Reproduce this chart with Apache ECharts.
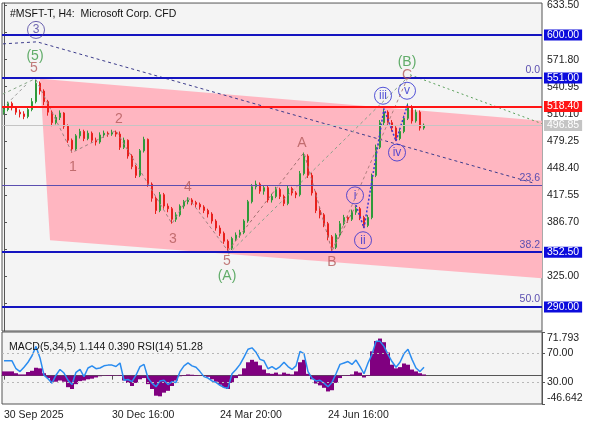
<!DOCTYPE html>
<html>
<head>
<meta charset="utf-8">
<title>MSFT H4</title>
<script src="https://cdn.jsdelivr.net/npm/echarts@6/dist/echarts.min.js"></script>
<style>
html, body { margin: 0; padding: 0; background: #fff; }
#main { width: 596px; height: 425px; }
</style>
</head>
<body>
<div id="main"></div>
<script>
// H4 candles
const open  = [512,515,522,517,512,510,507,515,524,545, 536,524,512,500,506,511,496,480,470,485, 490,482,488,480,478,486,488,487,489,487, 472,480,462,450,440,468,481,430,414,400, 418,405,402,390,395,405,410,412,409,407, 404,400,396,388,380,374,365,357,368,372, 375,388,410,427,430,422,426,412,416,424, 416,408,425,420,418,442,462,440,420,400, 395,385,370,358,372,385,392,390,398,402, 392,383,392,440,472,500,512,500,494,482, 490,505,518,502,512,494];
const close = [515,522,517,512,510,507,515,524,545,536, 524,512,500,506,511,496,480,470,485,490, 482,488,480,478,486,488,487,489,487,472, 480,462,450,440,468,481,430,414,400,418, 405,402,390,395,405,410,412,409,407,404, 400,396,388,380,374,365,357,368,372,375, 388,410,427,430,422,426,412,416,424,416, 408,425,420,418,442,462,440,420,400,395, 385,370,358,372,385,392,390,398,402,392, 383,392,440,472,500,512,500,494,482,490, 505,518,502,512,494,497];
const low   = [509,513,514,509,506,504,505,513,522,532, 520,508,496,498,503,493,477,466,468,482, 479,480,477,474,476,483,484,485,484,469, 470,459,447,437,438,466,427,410,396,398, 402,398,385,387,393,402,407,406,404,401, 397,392,385,377,371,362,354,355,365,369, 373,386,408,424,419,418,409,409,414,413, 405,406,417,414,416,440,437,417,397,391, 381,366,354,356,370,383,386,388,395,389, 380,381,390,438,470,497,497,490,479,480, 488,503,499,500,491,492];
const high  = [518,524,524,519,515,513,517,528,549,547, 538,526,514,509,514,512,498,482,487,493, 492,491,490,483,489,491,490,492,491,490, 483,481,464,452,470,484,482,432,416,421, 420,408,404,398,407,412,415,414,411,409, 406,402,398,390,383,376,367,370,375,378, 390,412,430,434,432,429,428,419,427,426, 418,428,427,422,445,466,464,443,422,404, 397,387,372,374,388,395,394,401,406,404, 394,395,442,475,503,516,514,503,496,493, 508,522,520,515,514,499];

const macdHist = [7,7,7,4,2,2,6,8,13,12, 4,-4,-12,-10,-8,-10,-19,-22,-14,-9, -8,-6,-5,-3,-1,0.5,1,1,0.5,1, -8,-12,-17,-12,-6,-4,-14,-22,-33,-34, -28,-25,-17,-8,-1,1,2,1.5,1,0.5, -0.5,-2,-6,-10,-15,-19,-22,-12,-4,2, 12,22,26,23,17,10,4,3,5,2, 5,3,2,7,22,26,3,-6,-13,-16, -20,-26,-24,-12,-4,0.5,1,2,7,5, -3,1,40,57,61,55,38,18,12,14, 20,18,10,7,4,2];
const rsi = [60,60,60,49,45,51,58,67,80,64, 40,35,29,40,48,43,33,27,44,48, 38,50,53,49,50,53,54,54,52,57, 33,34,31,40,52,55,36,29,24,32, 33,27,31,30,45,53,57,53,51,45, 38,36,32,30,26,23,22,42,48,55, 65,76,78,72,62,60,49,52,48,52, 58,52,48,53,73,70,45,36,32,33, 29,24,30,42,55,57,59,55,61,52, 42,57,69,87,87,80,69,59,51,58, 70,76,62,50,45,51];

// time axis: bar slots incl. empty space on the right
const slotCount = 135;
const dateTickIdx = [0, 27, 54, 81];
const dateTickText = ['30 Sep 2025', '30 Dec 16:00', '24 Mar 20:00', '24 Jun 16:00'];

// price scale ticks
const priceTicks  = [294.15, 325.00, 355.85, 386.70, 417.55, 448.40, 479.25, 510.10, 540.95, 571.80, 602.65, 633.50];
const priceLabels = [325.00, 386.70, 417.55, 448.40, 479.25, 510.10, 540.95, 571.80, 633.50];

// horizontal levels
const blueLevels = [600.00, 551.00, 352.50, 290.00];
const redLevel = 518.40;
const lastPrice = 496.85;
const fibNames  = ['0.0', '23.6', '38.2', '50.0'];
const fibPrices = [551.0, 428.5, 352.5, 290.0];

// channel (pink) corners: bar slot, price
const chanX = [9.0, 134.5, 134.5, 11.5];
const chanY = [550.0, 502.3, 322.9, 366.1];

// wave paths: bar slot, price
const impulseX = [8, 17, 28, 42, 46, 56];
const impulseY = [549, 466, 491, 385, 415, 354];
const abcX = [56, 75, 82, 88];
const abcY = [354, 466, 354, 406];
const subX = [88, 90, 95, 98, 101];
const subY = [406, 380, 516, 479, 522];
const bigAbX = [56, 101];
const bigAbY = [350, 552];
const bcX = [82, 101];
const bcY = [354, 552];
const trendX = [-0.25, 8.25, 132.75];
const trendY = [589.8, 592.1, 430.8];
const bTrendX = [101.5, 134.5];
const bTrendY = [554.6, 498.9];
const leftAX = [-0.3, 7.75];
const leftAY = [532.6, 550.0];
const leftBX = [0.7, 5.7];
const leftBY = [521.3, 544.0];

// wave labels
const brownText = ['5', '1', '2', '3', '4', '5', 'A', 'B', 'C'];
const brownX = [7.5, 17.25, 28.75, 42.25, 46, 55.75, 74.5, 82, 100.75];
const brownY = [562.5, 449, 504.6, 367.2, 426.3, 342.2, 476.2, 341.1, 554.6];
const greenText = ['(5)', '(A)', '(B)'];
const greenX = [7.75, 55.75, 100.75];
const greenY = [576.2, 325.2, 569.3];
const circText = ['i', 'ii', 'iii', 'iv', 'v'];
const circX = [87.75, 89.75, 94.75, 98.25, 100.75];
const circY = [417.2, 366.1, 530.7, 466, 536.4];
const bigCircText = ['3'];
const bigCircX = [8];
const bigCircY = [605.7];

const FONT = 'Liberation Sans';
const slots = Array.from({ length: slotCount }, (_, i) => String(i));
const pairs = (xs, ys) => xs.map((x, k) => [x, ys[k]]);

const myChart = echarts.init(document.getElementById('main'));

const dashed = (name, xs, ys, color, type, width) => ({
  name: name,
  type: 'line',
  xAxisIndex: 1,
  yAxisIndex: 0,
  data: pairs(xs, ys),
  symbol: 'none',
  silent: true,
  z: 4,
  lineStyle: { color: color, width: width || 1, type: type }
});

const textMarks = (texts, xs, ys, color, size) => ({
  type: 'scatter',
  xAxisIndex: 1,
  yAxisIndex: 0,
  symbolSize: 1,
  silent: true,
  z: 6,
  itemStyle: { color: 'rgba(0,0,0,0)' },
  data: texts.map((t, k) => ({ value: [xs[k], ys[k]], name: t })),
  label: {
    show: true, position: 'inside', formatter: p => p.name,
    color: color, fontFamily: FONT, fontSize: size
  }
});

const circleMarks = (texts, xs, ys, color, size) => ({
  type: 'scatter',
  xAxisIndex: 1,
  yAxisIndex: 0,
  symbol: 'circle',
  symbolSize: size,
  silent: true,
  z: 6,
  itemStyle: { color: 'rgba(255,255,255,0)', borderColor: color, borderWidth: 1 },
  data: texts.map((t, k) => ({ value: [xs[k], ys[k]], name: t })),
  label: {
    show: true, position: 'inside', formatter: p => p.name,
    color: color, fontFamily: FONT, fontSize: 12
  }
});

const boxLabel = (bg) => ({
  show: true, position: 'end', distance: 2,
  formatter: p => p.value.toFixed(2),
  color: '#fff', backgroundColor: bg,
  fontFamily: FONT, fontSize: 10.5, lineHeight: 11, padding: [0, 3, 0, 3]
});

const markData = [];
fibPrices.forEach((p, k) => markData.push({
  yAxis: p,
  lineStyle: { color: '#5b4fb0', width: 1, type: 'solid' },
  label: {
    show: true, position: 'insideEndTop', distance: 2, formatter: fibNames[k],
    color: '#5b4fb0', fontFamily: FONT, fontSize: 10.5
  }
}));
markData.push({ yAxis: lastPrice, lineStyle: { color: '#c4c4c4', width: 1, type: 'solid' }, label: boxLabel('#c4c4c4') });
markData.push({ yAxis: redLevel, lineStyle: { color: '#ff1414', width: 2, type: 'solid' }, label: boxLabel('#ff1414') });
blueLevels.forEach(p => markData.push({
  yAxis: p, lineStyle: { color: '#1414c0', width: 2, type: 'solid' }, label: boxLabel('#0c0cdc')
}));

const option = {
  animation: false,
  backgroundColor: '#fff',
  textStyle: { fontFamily: FONT },
  title: [
    { text: '#MSFT-T, H4:  Microsoft Corp. CFD', left: 5, top: 4,
      textStyle: { fontFamily: FONT, fontSize: 10.5, fontWeight: 'normal', color: '#111' } },
    { text: 'MACD(5,34,5) 1.144 0.390 RSI(14) 51.28', left: 4, top: 337,
      textStyle: { fontFamily: FONT, fontSize: 10.5, fontWeight: 'normal', color: '#111' } }
  ],
  grid: [
    { left: 2, right: 54, top: 2, bottom: 94, show: true, backgroundColor: '#f4f4f4', borderColor: '#555', borderWidth: 1 },
    { left: 2, right: 54, top: 332, bottom: 21, show: true, backgroundColor: '#f4f4f4', borderColor: '#555', borderWidth: 1 }
  ],
  xAxis: [
    { type: 'category', gridIndex: 0, data: slots, boundaryGap: true,
      axisLine: { show: false }, axisTick: { show: false }, axisLabel: { show: false }, splitLine: { show: false } },
    { type: 'value', gridIndex: 0, min: -0.5, max: slotCount - 0.5, show: false },
    { type: 'category', gridIndex: 1, data: slots, boundaryGap: true,
      axisLine: { show: true, lineStyle: { color: '#555' } },
      axisTick: { show: true, alignWithLabel: true, length: 4, lineStyle: { color: '#555' },
        interval: idx => dateTickIdx.includes(idx) },
      axisLabel: { show: true, align: 'left', margin: 6, color: '#222', fontFamily: FONT, fontSize: 10.5,
        interval: idx => dateTickIdx.includes(idx),
        formatter: (v, idx) => dateTickText[dateTickIdx.indexOf(idx)] || '' },
      splitLine: { show: false } }
  ],
  yAxis: [
    { type: 'value', gridIndex: 0, position: 'right', min: 262.7, max: 636.3,
      axisLine: { show: true, lineStyle: { color: '#555' } },
      axisTick: { show: true, length: 3, lineStyle: { color: '#555' }, customValues: priceTicks },
      axisLabel: { show: true, margin: 5, color: '#222', fontFamily: FONT, fontSize: 10.5,
        customValues: priceLabels, formatter: v => v.toFixed(2) },
      splitLine: { show: false } },
    { type: 'value', gridIndex: 1, position: 'right', min: -46.642, max: 71.793,
      axisLine: { show: true, lineStyle: { color: '#555' } },
      axisTick: { show: true, length: 3, lineStyle: { color: '#555' }, customValues: [-46.642, 71.793] },
      axisLabel: { show: true, margin: 5, color: '#222', fontFamily: FONT, fontSize: 10.5,
        customValues: [-46.642, 71.793],
        formatter: v => v > 0 ? '{t|' + v.toFixed(3) + '}' : '{b|' + v.toFixed(3) + '}',
        rich: {
          t: { padding: [12, 0, 0, 0], color: '#222', fontFamily: FONT, fontSize: 10.5 },
          b: { padding: [0, 0, 12, 0], color: '#222', fontFamily: FONT, fontSize: 10.5 }
        } },
      splitLine: { show: false } },
    { type: 'value', gridIndex: 1, position: 'right', min: 0, max: 100,
      axisLine: { show: false },
      axisTick: { show: true, length: 3, lineStyle: { color: '#555' }, customValues: [30, 70] },
      axisLabel: { show: true, margin: 5, color: '#222', fontFamily: FONT, fontSize: 10.5,
        customValues: [30, 70], formatter: v => v.toFixed(2) },
      splitLine: { show: false } }
  ],
  series: [
    {
      name: 'channel',
      type: 'custom',
      xAxisIndex: 1,
      yAxisIndex: 0,
      silent: true,
      z: 1,
      data: [[chanX[0], chanY[0]]],
      renderItem: (params, api) => ({
        type: 'polygon',
        shape: { points: chanX.map((x, k) => api.coord([x, chanY[k]])) },
        style: { fill: '#ffb6c1' }
      })
    },
    {
      name: 'MSFT',
      type: 'candlestick',
      xAxisIndex: 0,
      yAxisIndex: 0,
      z: 3,
      barWidth: 2,
      data: open.map((o, i) => [o, close[i], low[i], high[i]]),
      itemStyle: { color: '#2f9a3a', color0: '#e8201c', borderColor: '#2f9a3a', borderColor0: '#e8201c', borderWidth: 1 },
      markLine: { symbol: ['none', 'none'], silent: true, animation: false, data: markData }
    },
    dashed('trend', trendX, trendY, '#3c3c8c', [3, 3]),
    dashed('leftA', leftAX, leftAY, '#88a888', [3, 3]),
    dashed('leftB', leftBX, leftBY, '#999999', [3, 3]),
    dashed('impulse', impulseX, impulseY, '#9c8080', [3, 3]),
    dashed('abc', abcX, abcY, '#a07070', [3, 3]),
    dashed('bigAB', bigAbX, bigAbY, '#8aa08a', [3, 3]),
    dashed('bc', bcX, bcY, '#b08080', [3, 3]),
    dashed('sub', subX, subY, '#3a3ad8', [2, 2], 1.5),
    dashed('bTrend', bTrendX, bTrendY, '#5aa05a', [2, 3]),
    textMarks(brownText, brownX, brownY, '#b35a5a', 14),
    textMarks(greenText, greenX, greenY, '#3c9a46', 14),
    circleMarks(circText, circX, circY, '#2c2cd0', 17),
    circleMarks(bigCircText, bigCircX, bigCircY, '#4a3f9f', 17),
    {
      name: 'MACD',
      type: 'bar',
      xAxisIndex: 2,
      yAxisIndex: 1,
      barCategoryGap: '0%',
      data: macdHist,
      itemStyle: { color: '#800080' },
      silent: true
    },
    {
      name: 'RSI',
      type: 'line',
      xAxisIndex: 2,
      yAxisIndex: 2,
      data: rsi,
      symbol: 'none',
      silent: true,
      z: 4,
      lineStyle: { color: '#2a8cf0', width: 1.5 },
      markLine: {
        symbol: ['none', 'none'], silent: true,
        label: { show: false },
        lineStyle: { color: '#b8b8b8', width: 1, type: [2, 3] },
        data: [{ yAxis: 70 }, { yAxis: 30 }]
      }
    }
  ]
};

myChart.setOption(option);
</script>
</body>
</html>
